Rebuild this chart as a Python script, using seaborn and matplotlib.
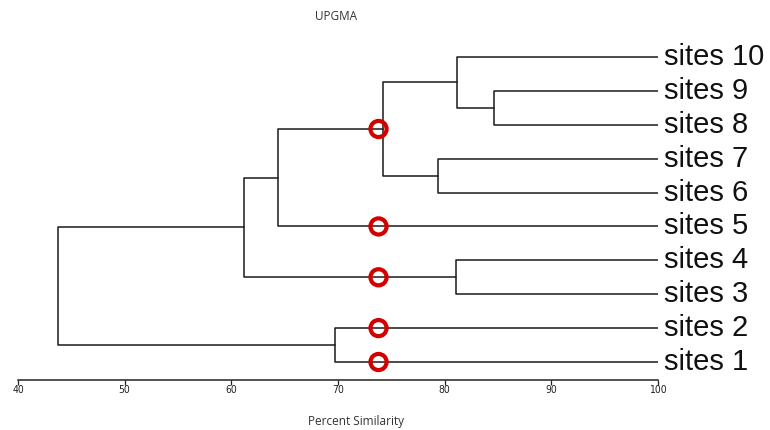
import pandas as pd
import seaborn as sns
import matplotlib
matplotlib.use("Agg")
import matplotlib.pyplot as plt

# leaves, bottom to top
leaves = ['sites 1', 'sites 2', 'sites 3', 'sites 4', 'sites 5',
          'sites 6', 'sites 7', 'sites 8', 'sites 9', 'sites 10']

# UPGMA merges: clusters C1..C9 in order of listing
merge_left = ['sites 9', 'sites 10', 'sites 7', 'C2', 'C4', 'sites 4', 'C5', 'sites 2', 'C7']
merge_right = ['sites 8', 'C1', 'sites 6', 'C3', 'sites 5', 'sites 3', 'C6', 'sites 1', 'C8']
merge_sim = [84.65, 81.2, 79.35, 74.2, 64.4, 81.1, 61.2, 69.7, 43.75]

cut_level = 73.8
ticks = [40, 50, 60, 70, 80, 90, 100]

sns.set_theme(style="white")
plt.rcParams['font.family'] = ['Liberation Sans', 'DejaVu Sans']

# node positions: leaves sit at 100 %, each join halfway between its children
node_x = {name: 100.0 for name in leaves}
node_y = {name: float(i) for i, name in enumerate(leaves)}
rows = []
circles = []
for k, (a, b, s) in enumerate(zip(merge_left, merge_right, merge_sim)):
    name = f'C{k + 1}'
    node_x[name] = s
    node_y[name] = (node_y[a] + node_y[b]) / 2
    pts = [(node_x[a], node_y[a]), (s, node_y[a]), (s, node_y[b]), (node_x[b], node_y[b])]
    for j, (px, py) in enumerate(pts):
        rows.append({'seg': k, 'order': j, 'x': px, 'y': py})
    # branches crossing the cut level get a red ring
    for c in (a, b):
        if s < cut_level < node_x[c]:
            circles.append({'x': cut_level, 'y': node_y[c]})

seg_df = pd.DataFrame(rows)
circ_df = pd.DataFrame(circles)

fig = plt.figure(figsize=(7.7, 4.3), dpi=100)
ax = fig.add_axes([18 / 770, 50 / 430, 640 / 770, 340 / 430])

sns.lineplot(data=seg_df, x='x', y='y', units='seg', estimator=None, sort=False,
             color='#1a1a1a', linewidth=1.1, ax=ax, legend=False)
sns.scatterplot(data=circ_df, x='x', y='y', marker='o', s=135, facecolor='none',
                edgecolor='#d40000', linewidth=3.0, ax=ax, legend=False, zorder=5)

for name in leaves:
    ax.annotate(name, xy=(100, node_y[name]), xytext=(4.5, 0), textcoords='offset points',
                va='center', ha='left', fontsize=21, color='#111111', annotation_clip=False)

ax.set_xlim(40, 100)
ax.set_ylim(-0.531, 9.501)
for sp in ['top', 'right', 'left']:
    ax.spines[sp].set_visible(False)
ax.spines['bottom'].set_color('#222222')
ax.spines['bottom'].set_linewidth(1.1)
ax.set_yticks([])
ax.set_xticks(ticks)
ax.set_xticklabels([str(t) for t in ticks], fontsize=7.5, family='DejaVu Sans',
                   fontstretch='condensed', color='#222222')
ax.tick_params(axis='x', direction='out', length=3.5, width=0.9, color='#222222', pad=0, bottom=True)
ax.set_xlabel('')
ax.set_ylabel('')

fig.text(336 / 770, 1 - 17 / 430, 'UPGMA', ha='center', va='center', fontsize=8.5,
         family='Open Sans', color='#333333')
fig.text(356 / 770, 1 - 421 / 430, 'Percent Similarity', ha='center', va='center',
         fontsize=8.5, family='Open Sans', color='#333333')

fig.savefig('out.png', dpi=100, facecolor='white')
